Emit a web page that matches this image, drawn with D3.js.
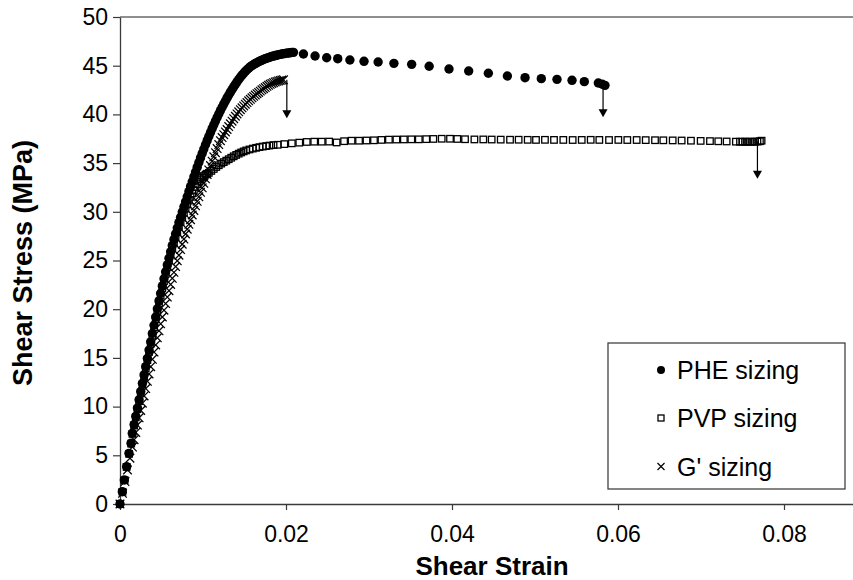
<!DOCTYPE html>
<html>
<head>
<meta charset="utf-8">
<script src="https://cdn.jsdelivr.net/npm/d3@7"></script>
<style>
  html, body { margin: 0; padding: 0; background: #fff; }
  svg { display: block; font-family: "Liberation Sans", Arial, sans-serif; }
</style>
</head>
<body>
<svg id="chart" width="853" height="580"></svg>
<script>
// Shear stress–strain response of three fibre sizings.
const seriesNames = ["PHE sizing", "PVP sizing", "G' sizing"];

// [shear strain, shear stress (MPa)]
const pheSizing = [
  [0,0],[0.00028,1.26],[0.00052,2.46],[0.0008,3.83],[0.00108,5.2],[0.00133,6.23],[0.00148,7.26],
  [0.0017,8.15],[0.0019,9.0],[0.0021,9.85],[0.0023,10.7],[0.0025,11.55],[0.0027,12.4],[0.0029,13.25],
  [0.0031,14.1],[0.0033,14.95],[0.0035,15.8],[0.0037,16.65],[0.0039,17.5],[0.0041,18.35],[0.0043,19.2],
  [0.0045,20.05],[0.0047,20.85],[0.0049,21.63],[0.0051,22.39],[0.0053,23.13],[0.0055,23.85],[0.0057,24.55],
  [0.0059,25.23],[0.0061,25.89],[0.0063,26.53],[0.0065,27.15],[0.0067,27.75],[0.0069,28.33],[0.0071,28.89],
  [0.0073,29.44],[0.0075,29.98],[0.0077,30.51],[0.0079,31.03],[0.0081,31.55],[0.0083,32.07],[0.0085,32.58],
  [0.0087,33.09],[0.0089,33.59],[0.0091,34.09],[0.0093,34.58],[0.0095,35.06],[0.0097,35.53],[0.0099,35.99],
  [0.0101,36.44],[0.0103,36.88],[0.0105,37.31],[0.0107,37.73],[0.0109,38.14],[0.0111,38.54],[0.0113,38.93],
  [0.0115,39.31],[0.0117,39.68],[0.0119,40.04],[0.0121,40.39],[0.0123,40.73],[0.0125,41.06],[0.0127,41.38],
  [0.0129,41.69],[0.0131,41.99],[0.0133,42.28],[0.0135,42.56],[0.0137,42.83],[0.0139,43.09],[0.0141,43.34],
  [0.0143,43.58],[0.0145,43.81],[0.0147,44.03],[0.0149,44.23],[0.0151,44.41],[0.0153,44.58],[0.0155,44.74],
  [0.0157,44.89],[0.0159,45.01],[0.0161,45.12],[0.0163,45.22],[0.0165,45.32],[0.0167,45.41],[0.0169,45.49],
  [0.0171,45.57],[0.0173,45.64],[0.0175,45.71],[0.0177,45.77],[0.0179,45.83],[0.0181,45.89],[0.0183,45.94],
  [0.0185,45.99],[0.0187,46.04],[0.0189,46.08],[0.0191,46.12],[0.0193,46.16],[0.0195,46.2],[0.0197,46.23],
  [0.0199,46.26],[0.0201,46.29],[0.0203,46.31],[0.0205,46.33],[0.0207,46.35],[0.0209,46.37],
  [0.0221,46.2],[0.0235,46.0],[0.0249,45.82],[0.02623,45.72],[0.0277,45.59],[0.0294,45.45],[0.0311,45.38],
  [0.033,45.24],[0.03514,45.14],[0.03725,44.94],[0.03964,44.66],[0.04201,44.46],[0.04438,44.22],
  [0.04667,43.94],[0.0488,43.77],[0.05076,43.67],[0.05265,43.6],[0.05446,43.5],[0.05594,43.36],
  [0.05763,43.22],[0.0581,43.1],[0.05843,42.98]
];

const pvpSizing = [
  [0,0],[0.0003,1.25],[0.00055,2.45],[0.0008,3.8],[0.0011,5.15],[0.00135,6.2],[0.0015,7.2],
  [0.0017,8.05],[0.0019,8.89],[0.0021,9.73],[0.0023,10.57],[0.0025,11.41],[0.0027,12.25],[0.0029,13.09],
  [0.0031,13.93],[0.0033,14.77],[0.0035,15.61],[0.0037,16.45],[0.0039,17.29],[0.0041,18.13],[0.0043,18.97],
  [0.0045,19.81],[0.0047,20.61],[0.0049,21.39],[0.0051,22.15],[0.0053,22.89],[0.0055,23.61],[0.0057,24.31],
  [0.0059,24.99],[0.0061,25.65],[0.0063,26.25],[0.0065,26.83],[0.0067,27.39],[0.0069,27.93],[0.0071,28.45],
  [0.0073,28.95],[0.0075,29.43],[0.0077,29.89],[0.0079,30.33],[0.0081,30.75],[0.0083,31.15],[0.0085,31.53],
  [0.0087,31.89],[0.0089,32.23],[0.0091,32.55],[0.0093,32.84],[0.0095,33.1],[0.0097,33.33],[0.0099,33.52],
  [0.0101,33.67],[0.0103,33.8],[0.0105,33.9],[0.0107,34.0],
  [0.011,34.2],[0.0113,34.4],[0.0116,34.6],[0.0119,34.78],[0.0122,34.95],[0.0125,35.1],[0.0128,35.25],
  [0.0131,35.4],[0.0134,35.55],[0.0137,35.7],[0.014,35.84],[0.0143,35.97],[0.0146,36.09],[0.0149,36.2],
  [0.0152,36.3],[0.0156,36.4],[0.016,36.49],[0.0164,36.57],[0.0168,36.64],[0.0172,36.7],[0.0176,36.75],
  [0.018,36.8],[0.0185,36.85],[0.019,36.88],
  [0.0198,36.95],[0.0207,37.03],[0.0216,37.1],[0.0225,37.17],[0.0234,37.2],[0.0243,37.2],[0.0252,37.21],
  [0.0261,37.12],[0.027,37.25],[0.0279,37.3],[0.0288,37.3],[0.0297,37.32],[0.0306,37.34],[0.0315,37.38],
  [0.0324,37.41],[0.0333,37.42],[0.0342,37.43],[0.0351,37.44],[0.036,37.44],[0.0369,37.46],[0.03775,37.48],
  [0.03876,37.5],[0.03976,37.5],[0.04064,37.48],[0.04157,37.45],[0.0427,37.43],[0.04377,37.43],[0.04478,37.42],
  [0.04587,37.41],[0.04699,37.4],[0.04803,37.4],[0.04912,37.39],[0.05012,37.38],[0.0512,37.39],[0.05229,37.38],
  [0.05341,37.38],[0.05454,37.37],[0.05563,37.38],[0.05671,37.39],[0.05775,37.38],[0.05892,37.37],[0.06004,37.38],
  [0.06112,37.37],[0.06225,37.37],[0.06334,37.36],[0.06446,37.35],[0.06546,37.34],[0.06659,37.33],[0.06767,37.32],
  [0.06879,37.3],[0.06996,37.28],[0.07108,37.26],[0.07208,37.24],[0.07309,37.22],[0.0742,37.2],[0.0747,37.2],
  [0.075,37.19],[0.0753,37.2],[0.0756,37.19],[0.0759,37.2],[0.0762,37.19],[0.0765,37.2],[0.0768,37.21],
  [0.0771,37.24],[0.0773,37.3]
];

const gPrimeSizing = [
  [0,0],[0.0003,1.1],[0.0006,2.3],[0.0009,3.5],[0.0012,4.7],[0.0015,5.85],
  [0.0017,6.6],[0.0019,7.35],[0.0021,8.1],[0.0023,8.85],[0.0025,9.6],[0.0027,10.35],[0.0029,11.1],
  [0.0031,11.85],[0.0033,12.6],[0.0035,13.35],[0.0037,14.1],[0.0039,14.85],[0.0041,15.6],[0.0043,16.33],
  [0.0045,17.06],[0.0047,17.78],[0.0049,18.5],[0.0051,19.2],[0.0053,19.9],[0.0055,20.58],[0.0057,21.25],
  [0.0059,21.9],[0.0061,22.54],[0.0063,23.17],[0.0065,23.78],[0.0067,24.38],[0.0069,24.97],[0.0071,25.55],
  [0.0073,26.12],[0.0075,26.67],[0.0077,27.2],[0.0079,27.72],[0.0081,28.22],[0.0083,28.71],[0.0085,29.19],
  [0.0087,29.67],[0.0089,30.14],[0.0091,30.61],[0.0093,31.08],[0.0095,31.54],[0.0097,32.0],[0.0099,32.46],
  [0.0101,32.92],[0.0103,33.38],[0.0105,33.84],[0.0107,34.3],[0.0109,34.75],[0.0111,35.2],[0.0113,35.64],
  [0.0115,36.07],[0.0117,36.49],[0.0119,36.9],[0.0121,37.3],[0.0123,37.62],[0.0125,37.92],[0.0127,38.2],
  [0.0129,38.45],[0.0131,38.75],[0.0133,39.03],[0.0135,39.3],[0.0137,39.56],[0.0139,39.81],[0.0141,40.05],
  [0.0143,40.27],[0.0145,40.48],[0.0147,40.68],[0.0149,40.87],[0.0151,41.05],[0.0153,41.22],[0.0155,41.39],
  [0.0157,41.55],[0.0159,41.7],[0.0161,41.85],[0.0163,41.99],[0.0165,42.13],[0.0167,42.26],[0.0169,42.39],
  [0.0171,42.52],[0.0173,42.64],[0.0175,42.76],[0.0177,42.88],[0.0179,42.99],[0.0181,43.09],[0.0183,43.18],
  [0.0185,43.26],[0.0187,43.33],[0.0189,43.39],[0.0191,43.44],[0.0193,43.48],[0.0195,43.52],[0.0197,43.55]
];

// Failure arrows: strain, stress at failure, stress at arrow tip
const failureStrain = [0.0582, 0.0768, 0.0201];
const failureStress = [42.98, 37.21, 43.55];
const arrowTipStress = [39.7, 33.4, 39.6];

const xTicks = [0, 0.02, 0.04, 0.06, 0.08];
const yTicks = [0, 5, 10, 15, 20, 25, 30, 35, 40, 45, 50];

const svg = d3.select("#chart");

const x = d3.scaleLinear().domain([0, 0.1]).range([120, 950]);
const y = d3.scaleLinear().domain([0, 50]).range([504, 17]);

const axisColor = "#3a3a3a";

// top frame line
svg.append("line")
  .attr("x1", x(0)).attr("x2", 853)
  .attr("y1", y(50)).attr("y2", y(50))
  .attr("stroke", "#6a6a6a").attr("stroke-width", 1.3);

// axes
const xAxis = svg.append("g")
  .attr("transform", `translate(0,${y(0)})`)
  .call(d3.axisBottom(x).tickValues(xTicks).tickFormat(d => String(d))
    .tickSize(6).tickSizeOuter(0).tickPadding(16));
const yAxis = svg.append("g")
  .attr("transform", `translate(${x(0)},0)`)
  .call(d3.axisLeft(y).tickValues(yTicks).tickSize(7).tickSizeOuter(0).tickPadding(5));

[xAxis, yAxis].forEach(g => {
  g.select(".domain").attr("stroke", axisColor).attr("stroke-width", 1.3);
  g.selectAll(".tick line").attr("stroke", axisColor).attr("stroke-width", 1.2);
  g.selectAll(".tick text")
    .attr("fill", "#000")
    .style("font-size", "23px")
    .style("font-family", "'Liberation Sans', Arial, sans-serif");
});

// axis titles
svg.append("text")
  .attr("x", 492).attr("y", 575)
  .attr("text-anchor", "middle")
  .style("font-size", "26px").style("font-weight", "bold")
  .text("Shear Strain");
svg.append("text")
  .attr("transform", "translate(32,263) rotate(-90)")
  .attr("text-anchor", "middle")
  .style("font-size", "27px").style("font-weight", "bold")
  .text("Shear Stress (MPa)");

// marker shapes
const drawDot = (sel, r) => sel.append("circle").attr("r", r).attr("fill", "#000");
const drawSquare = (sel, s) => sel.append("rect")
  .attr("x", -s / 2).attr("y", -s / 2).attr("width", s).attr("height", s)
  .attr("fill", "none").attr("stroke", "#000").attr("stroke-width", 1.3);
const drawCross = (sel, h, w) => sel.append("path")
  .attr("d", `M${-h},${-h}L${h},${h}M${-h},${h}L${h},${-h}`)
  .attr("stroke", "#000").attr("stroke-width", w).attr("fill", "none");

const plot = svg.append("g");

function drawSeries(data, draw) {
  plot.append("g").selectAll("g")
    .data(data).join("g")
    .attr("transform", d => `translate(${x(d[0])},${y(d[1])})`)
    .each(function () { draw(d3.select(this)); });
}

drawSeries(pheSizing, s => drawDot(s, 4.7));
drawSeries(pvpSizing, s => drawSquare(s, 6.5));
drawSeries(gPrimeSizing, s => drawCross(s, 4.3, 1.25));

// failure arrows
const arrows = svg.append("g");
failureStrain.forEach((e, i) => {
  const ax = x(e), y0 = y(failureStress[i]), y1 = y(arrowTipStress[i]);
  arrows.append("line")
    .attr("x1", ax).attr("x2", ax).attr("y1", y0).attr("y2", y1 - 7)
    .attr("stroke", "#000").attr("stroke-width", 1.2);
  arrows.append("path")
    .attr("d", `M${ax - 4.5},${y1 - 8}L${ax + 4.5},${y1 - 8}L${ax},${y1}Z`)
    .attr("fill", "#000");
});

// legend
const legend = svg.append("g");
legend.append("rect")
  .attr("x", 608).attr("y", 343).attr("width", 237).attr("height", 146)
  .attr("fill", "#fff").attr("stroke", "#333").attr("stroke-width", 1.2);
const legendRows = [370, 418, 466.5];
const legendDraw = [s => drawDot(s, 4), s => drawSquare(s, 6), s => drawCross(s, 3.5, 1.2)];
seriesNames.forEach((name, i) => {
  const g = legend.append("g").attr("transform", `translate(661,${legendRows[i]})`);
  legendDraw[i](g);
  legend.append("text")
    .attr("x", 677).attr("y", legendRows[i] + 9)
    .style("font-size", "25px")
    .text(name);
});
</script>
</body>
</html>
